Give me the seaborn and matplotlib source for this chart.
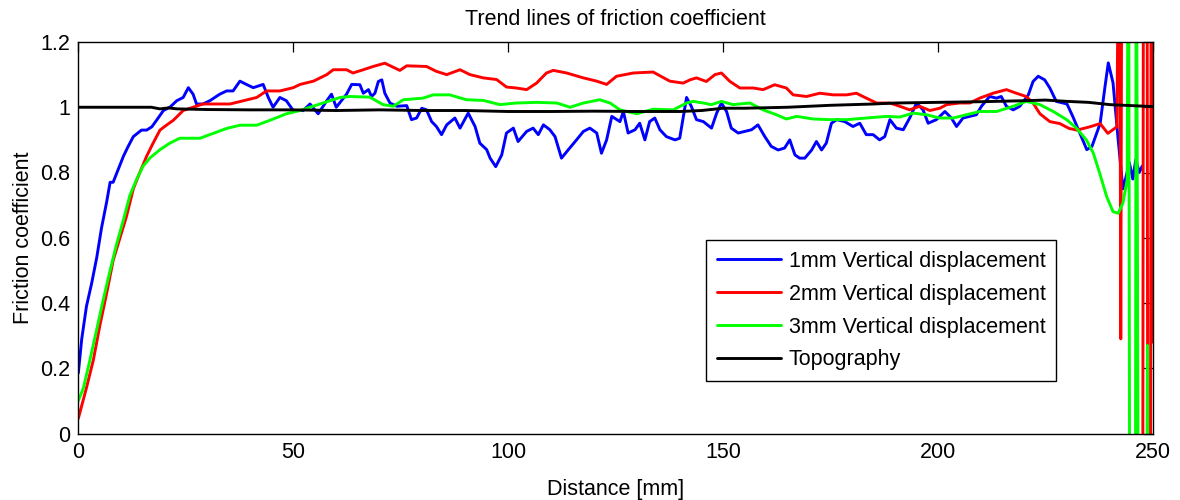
import matplotlib
matplotlib.use("Agg")
import matplotlib.pyplot as plt
import seaborn as sns

# Friction coefficient along the track for each vertical displacement
dist_1mm = [0, 0.8, 1.9, 3.1, 4.3, 5.4, 6.6, 7.4, 8.1, 9.3, 10.5, 11.6, 12.8, 14.7, 15.9, 17.1,
            18.2, 19.8, 21.3, 22.9, 24.4, 25.6, 26.7, 27.5, 29.0, 30.6, 32.9, 34.5, 36.0, 37.6,
            39.1, 40.7, 43.0, 44.2, 45.3, 46.9, 48.4, 50.0, 52.3, 53.9, 55.8, 57.8, 58.9, 60.0,
            62.4, 63.6, 65.5, 66.3, 67.5, 68.2, 69.0, 69.8, 70.6, 71.3, 72.5, 74.1, 76.4, 77.5,
            78.7, 79.9, 81.0, 82.2, 83.3, 84.5, 85.7, 87.6, 88.8, 90.7, 92.3, 93.4, 95.0, 95.8,
            97.1, 98.5, 99.6, 101.2, 102.3, 104.3, 105.8, 107.0, 108.2, 109.7, 110.9, 112.4,
            114.0, 115.9, 117.5, 119.0, 120.6, 121.7, 122.9, 124.1, 126.0, 126.8, 127.9, 129.5,
            130.6, 131.8, 132.9, 134.1, 135.3, 136.8, 138.8, 139.9, 141.5, 142.6, 143.8, 145.4,
            147.3, 148.5, 149.6, 150.8, 151.9, 153.5, 155.0, 156.6, 158.1, 159.7, 161.2, 162.8,
            164.3, 165.5, 166.7, 167.8, 169.0, 170.6, 171.7, 172.9, 174.0, 175.2, 176.4, 178.3,
            180.2, 181.8, 183.3, 184.9, 186.4, 187.6, 188.8, 190.3, 191.9, 193.4, 195.0, 196.5,
            197.7, 199.6, 201.6, 203.1, 204.3, 205.8, 207.4, 208.9, 210.1, 212.0, 213.6, 214.7,
            215.9, 217.5, 219.0, 221.0, 222.1, 223.3, 224.8, 226.0, 227.5, 230.0, 231.4, 233.0,
            234.6, 235.8, 237.7, 238.8, 239.6, 240.7, 241.9, 243.0, 243.6, 244.5, 245.3, 246.0,
            246.8, 247.5]
cof_1mm = [0.185, 0.29, 0.39, 0.46, 0.54, 0.63, 0.71, 0.77, 0.77, 0.81, 0.85, 0.88, 0.91, 0.93,
           0.93, 0.94, 0.96, 0.99, 1.0, 1.02, 1.03, 1.06, 1.04, 1.01, 1.01, 1.02, 1.04, 1.05, 1.05,
           1.08, 1.07, 1.06, 1.07, 1.03, 1.0, 1.03, 1.02, 0.99, 0.99, 1.01, 0.98, 1.02, 1.04, 1.0,
           1.04, 1.07, 1.069, 1.043, 1.054, 1.033, 1.043, 1.079, 1.084, 1.043, 1.013, 1.003, 1.005,
           0.962, 0.967, 0.997, 0.992, 0.956, 0.941, 0.916, 0.946, 0.967, 0.936, 0.982, 0.941,
           0.89, 0.87, 0.844, 0.818, 0.854, 0.921, 0.936, 0.895, 0.926, 0.936, 0.916, 0.946,
           0.931, 0.91, 0.844, 0.87, 0.9, 0.926, 0.936, 0.921, 0.859, 0.9, 0.972, 0.956, 0.987,
           0.921, 0.931, 0.951, 0.9, 0.956, 0.967, 0.931, 0.91, 0.9, 0.905, 1.03, 1.003, 0.962,
           0.956, 0.936, 0.982, 1.013, 0.987, 0.936, 0.921, 0.926, 0.931, 0.946, 0.91, 0.88,
           0.869, 0.875, 0.9, 0.854, 0.844, 0.844, 0.869, 0.895, 0.869, 0.89, 0.951, 0.962, 0.956,
           0.941, 0.951, 0.916, 0.916, 0.9, 0.91, 0.962, 0.936, 0.931, 0.967, 1.013, 0.992, 0.951,
           0.962, 0.987, 0.967, 0.941, 0.967, 0.972, 0.977, 1.003, 1.033, 1.028, 1.033, 1.003,
           0.992, 1.003, 1.038, 1.079, 1.095, 1.084, 1.059, 1.018, 1.01, 0.97, 0.92, 0.87, 0.88,
           0.95, 1.06, 1.136, 1.075, 0.90, 0.75, 0.78, 0.83, 0.78, 0.84, 0.80, 0.82]

dist_2mm = [0, 1.9, 3.5, 5.0, 6.6, 8.1, 9.7, 11.2, 12.8, 14.3, 15.9, 17.4, 19.0, 20.5, 22.1, 24.4,
            26.7, 29.0, 32.2, 35.3, 38.4, 41.5, 43.8, 46.9, 50.0, 51.6, 54.7, 57.8, 59.3, 62.4,
            63.9, 66.3, 68.6, 71.3, 74.8, 76.4, 81.0, 83.3, 85.7, 88.8, 91.1, 94.2, 97.3, 99.6,
            101.9, 104.3, 106.6, 108.9, 110.5, 113.6, 117.5, 120.6, 122.9, 125.2, 129.1, 133.7,
            137.6, 140.7, 142.3, 143.8, 146.1, 148.1, 149.6, 151.6, 153.9, 157.0, 159.3, 162.0,
            164.7, 166.3, 169.4, 172.5, 175.6, 178.7, 181.0, 183.3, 185.7, 188.8, 191.1, 193.4,
            195.7, 198.1, 200.4, 202.0, 205.0, 207.4, 209.7, 212.8, 215.9, 218.2, 220.5, 222.1,
            223.7, 226.0, 228.3, 230.5, 232.3, 235.3, 237.7, 239.5, 241.6, 242.2, 242.5, 242.8,
            246.1, 246.3, 247.6, 247.8, 248.6, 248.8, 249.4, 249.6, 249.8]
cof_2mm = [0.046, 0.14, 0.225, 0.33, 0.43, 0.53, 0.60, 0.665, 0.75, 0.80, 0.85, 0.89, 0.93, 0.945,
           0.96, 0.99, 1.0, 1.01, 1.01, 1.01, 1.02, 1.03, 1.05, 1.05, 1.06, 1.07, 1.08, 1.10,
           1.115, 1.115, 1.105, 1.115, 1.125, 1.135, 1.113, 1.127, 1.125, 1.11, 1.10, 1.115,
           1.10, 1.09, 1.085, 1.062, 1.059, 1.054, 1.074, 1.105, 1.113, 1.105, 1.09, 1.08, 1.07,
           1.095, 1.105, 1.108, 1.08, 1.074, 1.084, 1.09, 1.079, 1.1, 1.105, 1.079, 1.059,
           1.059, 1.054, 1.069, 1.059, 1.038, 1.033, 1.043, 1.038, 1.038, 1.043, 1.028, 1.013,
           1.013, 1.003, 0.992, 1.003, 0.99, 0.997, 1.008, 1.013, 1.013, 1.028, 1.043, 1.054,
           1.043, 1.033, 1.013, 0.98, 0.956, 0.95, 0.935, 0.93, 0.94, 0.95, 0.92, 0.94, 1.9,
           0.29, 1.9, 1.9, -0.5, -0.5, 1.9, 1.9, -0.5, -0.5, 1.9, 0.28]

dist_3mm = [0, 1.2, 2.7, 4.3, 5.8, 7.4, 8.9, 10.5, 12.0, 13.6, 15.1, 16.7, 19.0, 21.3, 23.6, 28.3,
            31.4, 34.5, 37.6, 41.5, 44.6, 48.4, 51.6, 56.2, 60.9, 63.2, 67.8, 70.9, 73.3, 75.6,
            80.2, 82.6, 86.4, 90.3, 94.2, 98.1, 101.9, 106.6, 111.3, 114.4, 117.5, 121.3, 123.7,
            126.0, 129.9, 133.7, 138.4, 141.5, 143.0, 145.4, 147.3, 149.6, 152.3, 156.2, 159.3,
            162.4, 164.7, 167.1, 171.0, 174.8, 178.7, 183.3, 188.0, 191.1, 194.2, 197.3, 200.4,
            203.5, 206.6, 209.7, 213.6, 217.5, 220.5, 223.7, 226.8, 229.9, 232.2, 234.5, 236.1,
            237.6, 239.2, 240.7, 241.9, 243.0, 244.0, 244.3, 244.6, 245.9, 246.1, 246.6, 248.5,
            248.7, 248.9, 249.8]
cof_3mm = [0.10, 0.14, 0.225, 0.32, 0.41, 0.50, 0.58, 0.655, 0.73, 0.78, 0.82, 0.845, 0.87, 0.89,
           0.905, 0.905, 0.92, 0.935, 0.945, 0.945, 0.96, 0.98, 0.99, 1.01, 1.03, 1.033, 1.031,
           1.008, 1.003, 1.023, 1.028, 1.038, 1.038, 1.023, 1.021, 1.008, 1.013, 1.015, 1.013,
           1.0, 1.013, 1.023, 1.013, 0.992, 0.98, 0.994, 0.992, 1.013, 1.018, 1.013, 1.008, 1.018,
           1.008, 1.013, 0.992, 0.977, 0.964, 0.972, 0.964, 0.962, 0.962, 0.967, 0.972, 0.97,
           0.982, 0.977, 0.967, 0.967, 0.977, 0.987, 0.987, 1.003, 1.018, 1.008, 0.987, 0.962,
           0.936, 0.90, 0.86, 0.798, 0.727, 0.68, 0.675, 0.706, 0.778, 1.9, -0.5, -0.5, 1.9,
           -0.5, -0.5, 0.27, -0.5, -0.5]

dist_topo = [0, 10, 17, 19, 21, 23, 30, 40, 50, 60, 70, 80, 90, 100, 110, 120, 130, 140, 145,
             150, 155, 165, 175, 185, 190, 200, 210, 220, 225, 230, 235, 240, 245, 250]
cof_topo = [1.0, 1.0, 1.0, 0.995, 0.998, 0.995, 0.993, 0.992, 0.992, 0.99, 0.992, 0.99, 0.99,
            0.987, 0.987, 0.988, 0.987, 0.987, 0.99, 0.997, 0.997, 1.0, 1.006, 1.01, 1.013,
            1.015, 1.017, 1.02, 1.022, 1.018, 1.015, 1.008, 1.005, 1.002]

series_labels = ["1mm Vertical displacement", "2mm Vertical displacement",
                 "3mm Vertical displacement", "Topography"]
series_colors = ["#0000ff", "#ff0000", "#00ff00", "#000000"]

x_ticks = [0, 50, 100, 150, 200, 250]
y_ticks = [0, 0.2, 0.4, 0.6, 0.8, 1.0, 1.2]
y_tick_labels = ["0", "0.2", "0.4", "0.6", "0.8", "1", "1.2"]

sns.set_style("white")
plt.rcParams["font.family"] = ["Liberation Sans", "DejaVu Sans"]
plt.rcParams.update({"text.color": "black", "axes.labelcolor": "black",
                     "xtick.color": "black", "ytick.color": "black"})
FS = 15.5

fig = plt.figure(figsize=(11.8, 5), dpi=100)
ax = fig.add_axes([78.3 / 1180, 1 - 433.5 / 500, (1153 - 78.3) / 1180, (433.5 - 42) / 500])

data = [(dist_1mm, cof_1mm), (dist_2mm, cof_2mm), (dist_3mm, cof_3mm), (dist_topo, cof_topo)]
for (xs, ys), lab, col in zip(data, series_labels, series_colors):
    sns.lineplot(x=xs, y=ys, color=col, label=lab, linewidth=2.1,
                 estimator=None, sort=False, ax=ax)

ax.set_xlim(0, 250)
ax.set_ylim(0, 1.2)
ax.set_xticks(x_ticks)
ax.set_xticklabels([str(t) for t in x_ticks])
ax.set_yticks(y_ticks)
ax.set_yticklabels(y_tick_labels)
ax.tick_params(direction="in", length=7, width=0.9, top=True, right=True,
               labelsize=FS, pad=6, colors="black")
for sp in ax.spines.values():
    sp.set_color("black")
    sp.set_linewidth(1.0)
    sp.set_visible(True)

ax.set_title("Trend lines of friction coefficient", fontsize=FS, pad=12, color="black")
ax.set_xlabel("Distance [mm]", fontsize=FS, labelpad=12)
ax.set_ylabel("Friction coefficient", fontsize=FS, labelpad=4)

leg = ax.legend(loc="upper left", bbox_to_anchor=(0.584, 0.494), borderaxespad=0,
                fontsize=FS, frameon=True, fancybox=False, framealpha=1,
                edgecolor="black", borderpad=0.5, labelspacing=0.55,
                handlelength=3.0, handletextpad=0.35)
leg.get_frame().set_linewidth(1.0)

fig.savefig("out.png", dpi=100, facecolor="white")
